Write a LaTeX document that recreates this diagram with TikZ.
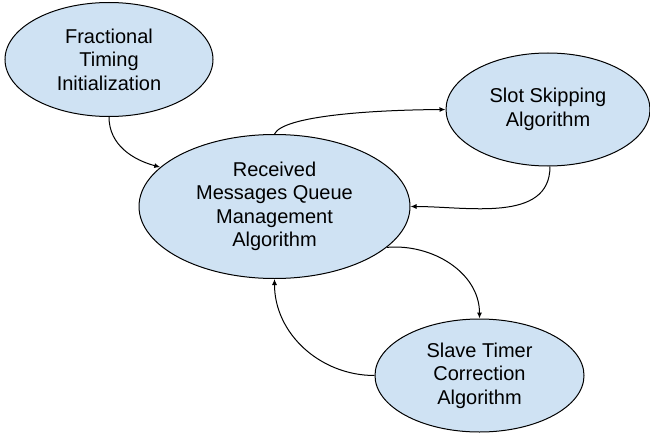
\documentclass[tikz,border=0pt]{standalone}
\usepackage{fontspec}
\setmainfont{Liberation Sans}
\usetikzlibrary{shapes.geometric}
\usetikzlibrary{arrows.meta}
\definecolor{bubblefill}{HTML}{CFE2F3}
\tikzset{bubble/.style={ellipse,draw=black,line width=1pt,fill=bubblefill,
    inner sep=0pt,align=center,font=\fontsize{20}{23.5}\selectfont},
  link/.style={line width=1pt,-{Latex[length=6pt,width=5pt]}}
}

\begin{document}
\begin{tikzpicture}[x=1pt,y=-1pt]
                \useasboundingbox (0,0) rectangle (650,436);

                % Algorithm bubbles
                \node[bubble,minimum width=208,minimum height=114] (fti) at (109,59.5)
                    {Fractional\\Timing\\Initialization};
                \node[bubble,minimum width=204,minimum height=113] (ssa) at (548,109.5)
                    {Slot Skipping\\Algorithm};
                \node[bubble,minimum width=271,minimum height=144] (rmq) at (274.5,206.5)
                    {Received\\Messages Queue\\Management\\Algorithm};
                \node[bubble,minimum width=209,minimum height=113] (stc) at (479.5,375.5)
                    {Slave Timer\\Correction\\Algorithm};

                % Connectors
                \draw[link] (fti.south) to[out=-90,in=165] (rmq.161);
                \draw[link] (rmq.north) .. controls (283,116) and (370,110) .. (ssa.west);
                \draw[link] (ssa.-88) to[out=-90,in=0] (rmq.east);
                \draw[link] (rmq.-20) to[out=5,in=90] (stc.north);
                \draw[link] (stc.west) to[out=180,in=-90] (rmq.south);
            \end{tikzpicture}
\end{document}
